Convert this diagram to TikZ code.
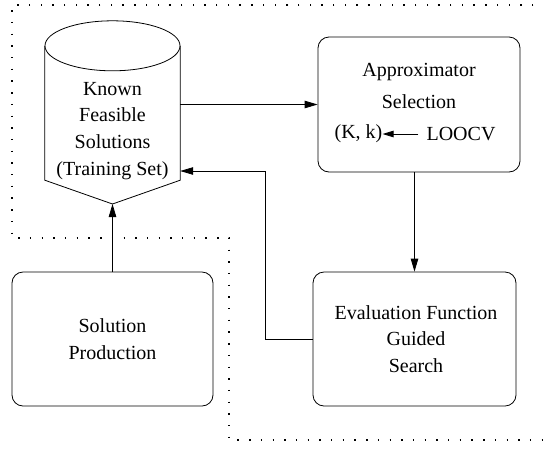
\documentclass[tikz,border=0pt]{standalone}
\usepackage{fontspec}
\setmainfont{Liberation Serif}
\usetikzlibrary{arrows.meta}
\begin{document}
\begin{tikzpicture}[x=1pt,y=-1pt,
  txt/.style={font=\fontsize{20}{26.8}\selectfont, align=center, inner sep=0pt},
  rbox/.style={draw, line width=0.8pt, rounded corners=11pt, inner sep=0pt},
  conn/.style={line width=0.8pt},
  arr/.style={line width=0.8pt, -{Triangle[length=13pt,width=7.5pt]}},
  sarr/.style={line width=0.8pt, -{Triangle[length=11pt,width=6.5pt]}},
  bound/.style={line width=1.3pt, dash pattern=on 1.4pt off 10.3pt}]
\useasboundingbox (0,0) rectangle (543,448);
% dotted boundary
\draw[bound] (545,5) -- (12,5) -- (12,238) -- (229,238) -- (229,440) -- (545,440);
% cylinder
\node[minimum width=135pt, minimum height=134pt, inner sep=0pt] (kfs) at (112.5,113) {};
\coordinate (kfstip) at (112.5,204);
\draw[line width=0.8pt] (kfs.north west) -- (kfs.south west) -- (kfstip) -- (kfs.south east) -- (kfs.north east);
\draw[line width=0.8pt] (kfs.north) ellipse [x radius=67.5pt, y radius=25pt];
\node[txt] (kfstext) at (112.5,131) {Known\\Feasible\\Solutions\\(Training Set)};
% approximator
\node[rbox, minimum width=202pt, minimum height=135pt] (appr) at (419,104.5) {};
\node[txt] (appr1) at (419,72) {Approximator};
\node[txt] (appr2) at (419,102) {Selection};
\node[txt] (kk) at (358.5,134) {(K, k)};
\node[txt] (loocv) at (461,134) {LOOCV};
\draw[sarr] (loocv.west) ++(-8,0) coordinate (lw) (lw) -- (kk.east);
% evaluation
\node[rbox, minimum width=203pt, minimum height=134pt] (eval) at (414.5,339) {};
\node[txt] (evaltext) at (416,339) {Evaluation Function\\Guided\\Search};
% solution production
\node[rbox, minimum width=201pt, minimum height=134pt] (sol) at (112.5,339) {};
\node[txt] (soltext) at (112.5,339) {Solution\\Production};
% connectors
\draw[arr] (kfs.east |- appr.west) -- (appr.west);
\draw[arr] (appr.south -| eval.north) -- (eval.north);
\coordinate (fbk) at (265,171);
\draw[arr] (eval.west) -| (fbk) -- (fbk -| kfs.east);
\draw[arr] (sol.north) -- (kfstip);
\end{tikzpicture}
\end{document}
